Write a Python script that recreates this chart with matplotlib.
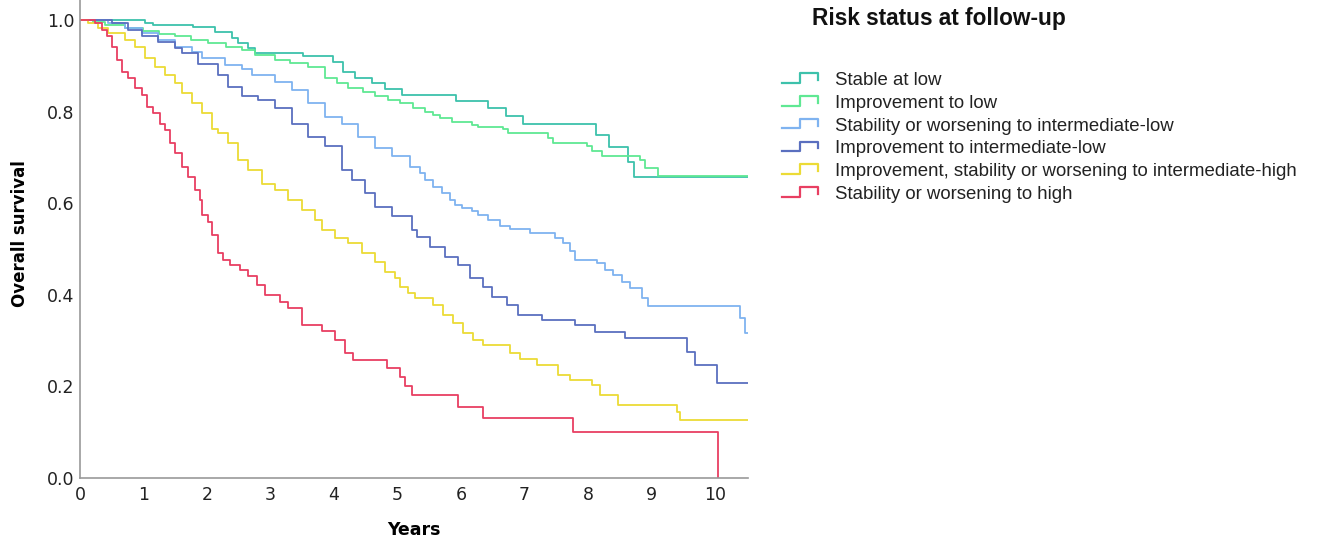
import matplotlib
matplotlib.use("Agg")
import matplotlib.pyplot as plt
from matplotlib.lines import Line2D
from matplotlib.legend_handler import HandlerBase

# Kaplan-Meier step data: drop times (years) and survival after each drop
stable_low_t = [0, 1.02, 1.15, 1.78, 2.13, 2.39, 2.49, 2.65, 2.76, 3.51, 3.98, 4.14, 4.33, 4.60,
                4.80, 5.07, 5.92, 6.43, 6.71, 6.98, 8.13, 8.33, 8.63, 8.72, 10.52]
stable_low_s = [1.0, 0.994, 0.989, 0.984, 0.974, 0.960, 0.949, 0.938, 0.927, 0.921, 0.909, 0.887,
                0.873, 0.862, 0.849, 0.836, 0.824, 0.807, 0.791, 0.774, 0.749, 0.722, 0.689, 0.658, 0.658]

impr_low_t = [0, 0.20, 0.40, 0.71, 1.00, 1.25, 1.50, 1.75, 2.02, 2.30, 2.55, 2.76, 3.07, 3.30, 3.59,
              3.86, 4.05, 4.22, 4.45, 4.65, 4.85, 5.04, 5.24, 5.43, 5.56, 5.67, 5.86, 6.17, 6.27,
              6.66, 6.74, 7.37, 7.45, 7.98, 8.06, 8.22, 8.82, 8.90, 9.10, 10.52]
impr_low_s = [1.0, 0.996, 0.990, 0.982, 0.975, 0.970, 0.964, 0.956, 0.949, 0.941, 0.934, 0.923, 0.913,
              0.906, 0.898, 0.873, 0.862, 0.851, 0.842, 0.833, 0.826, 0.818, 0.807, 0.800, 0.793,
              0.785, 0.778, 0.771, 0.767, 0.763, 0.754, 0.742, 0.731, 0.724, 0.713, 0.704, 0.694,
              0.676, 0.659, 0.659]

stab_il_t = [0, 0.44, 0.71, 0.98, 1.23, 1.50, 1.76, 1.92, 2.28, 2.55, 2.71, 3.07, 3.34, 3.59, 3.86,
             4.13, 4.38, 4.65, 4.91, 5.20, 5.35, 5.43, 5.56, 5.70, 5.83, 5.91, 6.02, 6.17, 6.27,
             6.43, 6.61, 6.77, 7.09, 7.48, 7.61, 7.72, 7.80, 8.14, 8.27, 8.39, 8.54, 8.66, 8.85,
             8.94, 10.39, 10.47, 10.52]
stab_il_s = [1.0, 0.994, 0.982, 0.971, 0.956, 0.942, 0.931, 0.916, 0.902, 0.894, 0.880, 0.865, 0.847,
             0.818, 0.789, 0.774, 0.745, 0.720, 0.702, 0.680, 0.665, 0.650, 0.636, 0.622, 0.607,
             0.597, 0.589, 0.583, 0.575, 0.563, 0.551, 0.543, 0.534, 0.525, 0.513, 0.495, 0.476,
             0.469, 0.454, 0.443, 0.429, 0.414, 0.392, 0.376, 0.349, 0.316, 0.316]

impr_il_t = [0, 0.50, 0.76, 0.98, 1.23, 1.50, 1.61, 1.86, 2.17, 2.33, 2.55, 2.80, 3.07, 3.34, 3.59,
             3.86, 4.13, 4.28, 4.49, 4.65, 4.91, 5.23, 5.31, 5.51, 5.75, 5.95, 6.14, 6.35, 6.49,
             6.72, 6.90, 7.28, 7.80, 8.11, 8.58, 9.56, 9.69, 10.03, 10.52]
impr_il_s = [1.0, 0.994, 0.978, 0.964, 0.953, 0.938, 0.927, 0.905, 0.880, 0.854, 0.833, 0.825, 0.807,
             0.774, 0.745, 0.724, 0.672, 0.651, 0.622, 0.592, 0.571, 0.541, 0.527, 0.505, 0.483,
             0.465, 0.436, 0.418, 0.396, 0.378, 0.356, 0.345, 0.334, 0.319, 0.305, 0.276, 0.247,
             0.207, 0.207]

int_high_t = [0, 0.13, 0.28, 0.44, 0.71, 0.87, 1.02, 1.18, 1.34, 1.50, 1.61, 1.76, 1.92, 2.08, 2.17,
              2.33, 2.49, 2.65, 2.87, 3.07, 3.28, 3.50, 3.70, 3.81, 4.02, 4.22, 4.44, 4.65, 4.80,
              4.96, 5.04, 5.16, 5.28, 5.56, 5.72, 5.87, 6.03, 6.19, 6.35, 6.77, 6.93, 7.20, 7.53,
              7.72, 8.06, 8.19, 8.47, 9.40, 9.45, 10.52]
int_high_s = [1.0, 0.994, 0.982, 0.971, 0.956, 0.942, 0.916, 0.898, 0.880, 0.862, 0.840, 0.818, 0.796,
              0.763, 0.753, 0.731, 0.694, 0.672, 0.643, 0.629, 0.607, 0.585, 0.563, 0.541, 0.523,
              0.513, 0.491, 0.472, 0.450, 0.436, 0.418, 0.403, 0.392, 0.378, 0.356, 0.338, 0.316,
              0.301, 0.290, 0.272, 0.259, 0.247, 0.225, 0.214, 0.203, 0.181, 0.159, 0.145, 0.127,
              0.127]

high_t = [0, 0.24, 0.35, 0.43, 0.50, 0.58, 0.66, 0.76, 0.87, 0.98, 1.06, 1.15, 1.26, 1.34, 1.42,
          1.50, 1.61, 1.70, 1.81, 1.89, 1.92, 2.02, 2.08, 2.17, 2.25, 2.36, 2.52, 2.65, 2.79, 2.91,
          3.15, 3.28, 3.50, 3.81, 4.02, 4.17, 4.30, 4.83, 5.04, 5.12, 5.23, 5.95, 6.35, 7.76, 10.05]
high_s = [1.0, 0.994, 0.978, 0.964, 0.942, 0.913, 0.887, 0.873, 0.851, 0.836, 0.811, 0.796, 0.774,
          0.760, 0.731, 0.709, 0.680, 0.658, 0.629, 0.607, 0.574, 0.560, 0.531, 0.491, 0.476,
          0.465, 0.454, 0.440, 0.421, 0.400, 0.385, 0.371, 0.334, 0.320, 0.301, 0.272, 0.258,
          0.240, 0.221, 0.200, 0.181, 0.156, 0.130, 0.100, 0.0]

series = [
    ("Stable at low", stable_low_t, stable_low_s, "#3dc1ab"),
    ("Improvement to low", impr_low_t, impr_low_s, "#5fe893"),
    ("Stability or worsening to intermediate-low", stab_il_t, stab_il_s, "#7fb3f0"),
    ("Improvement to intermediate-low", impr_il_t, impr_il_s, "#5a6fbf"),
    ("Improvement, stability or worsening to intermediate-high", int_high_t, int_high_s, "#ecdb36"),
    ("Stability or worsening to high", high_t, high_s, "#e83f62"),
]


class StepHandler(HandlerBase):
    # little step glyph like the SPSS legend
    def create_artists(self, legend, orig_handle, xdescent, ydescent, width, height, fontsize, trans):
        h = height
        x0 = -xdescent
        y0 = -ydescent
        xs = [x0, x0 + 0.5 * width, x0 + 0.5 * width, x0 + width, x0 + width]
        ys = [y0 + 0.1 * h, y0 + 0.1 * h, y0 + 0.95 * h, y0 + 0.95 * h, y0 + 0.35 * h]
        ln = Line2D(xs, ys, color=orig_handle.get_color(), lw=1.6, transform=trans)
        return [ln]


fig = plt.figure(figsize=(13.17, 5.44), dpi=100)
ax = fig.add_axes([80 / 1317, 1 - 478 / 544, 668 / 1317, 478 / 544])

handles = []
for name, t, s, c in series:
    ln, = ax.step(t, s, where="post", color=c, lw=1.3, label=name)
    handles.append(ln)

ax.set_xlim(0, 10.52)
ax.set_ylim(0, 1.0 + 20 / 458)
ax.set_xticks(range(0, 11))
ax.set_yticks([0.0, 0.2, 0.4, 0.6, 0.8, 1.0])
ax.set_yticklabels(["0.0", "0.2", "0.4", "0.6", "0.8", "1.0"])
ax.tick_params(axis="y", length=0, labelsize=12.5, colors="#222222", pad=4)
ax.tick_params(axis="x", length=0, labelsize=12.5, colors="#222222", pad=6)
for side in ["top", "right"]:
    ax.spines[side].set_visible(False)
for side in ["left", "bottom"]:
    ax.spines[side].set_color("#999999")
    ax.spines[side].set_linewidth(1.2)

ax.set_xlabel("Years", fontsize=12.5, fontweight="bold")
ax.xaxis.set_label_coords(0.5, -(530 - 478) / 478, transform=ax.transAxes)
ax.xaxis.label.set_va("center")
ax.set_ylabel("Overall survival", fontsize=12, fontweight="bold")
ax.yaxis.set_label_coords(-60 / 668, (478 - 234) / 478, transform=ax.transAxes)
ax.yaxis.label.set_va("center")

fig.text(812 / 1317, 1 - 18 / 544, "Risk status at follow-up", fontsize=16.3, fontweight="bold",
         family="Liberation Sans", va="center", ha="left", color="#111111")

leg = fig.legend(handles=handles, handler_map={Line2D: StepHandler()},
                 loc="upper left", bbox_to_anchor=(782 / 1317, 1 - 72 / 544),
                 frameon=False, prop={"family": "Liberation Sans", "size": 13.4},
                 handlelength=1.95, handleheight=0.55, handletextpad=0.9, labelspacing=0.31,
                 borderaxespad=0, borderpad=0)
for txt in leg.get_texts():
    txt.set_color("#222222")

fig.savefig("out.png", dpi=100)
